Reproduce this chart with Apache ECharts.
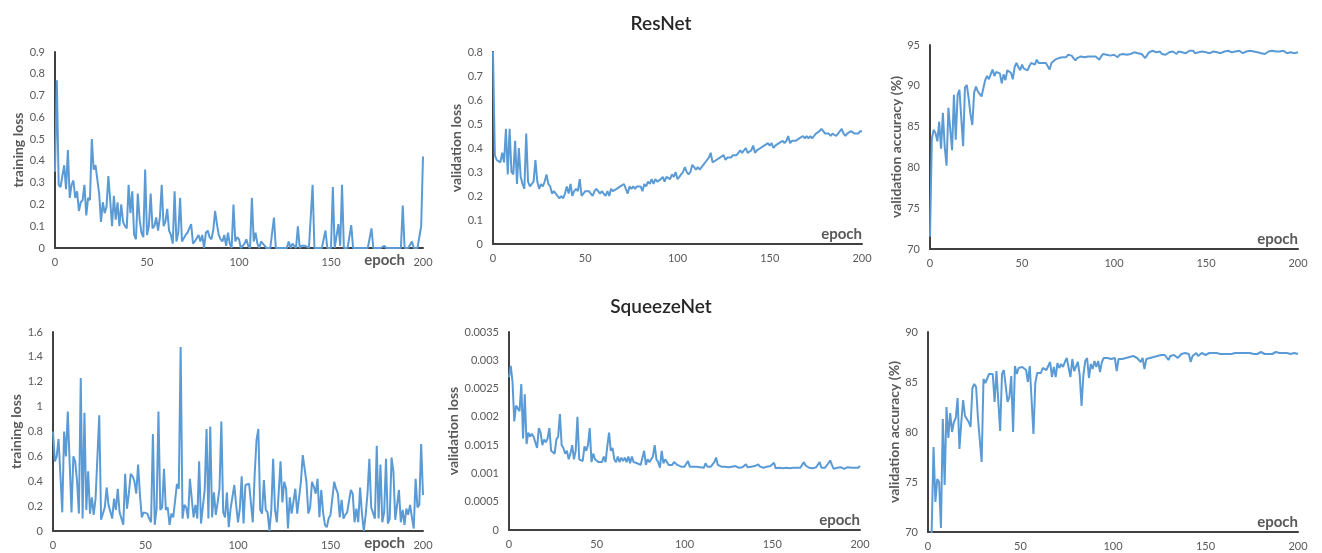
<!DOCTYPE html>
<html>
<head>
<meta charset="utf-8">
<script src="https://cdn.jsdelivr.net/npm/echarts@6/dist/echarts.min.js"></script>
<style>
  html, body { margin: 0; padding: 0; background: #fff; }
  #chart { width: 1322px; height: 553px; }
</style>
</head>
<body>
<div id="chart"></div>
<script>
// epochs 0..200
const epochs = Array.from({ length: 201 }, (_, i) => i)
const xTicks = [0, 50, 100, 150, 200]

// ResNet – training loss
const resTrainLoss = [
  0.35, 0.77, 0.29, 0.28, 0.28, 0.38, 0.27, 0.45, 0.23, 0.29,
  0.31, 0.23, 0.26, 0.17, 0.21, 0.22, 0.29, 0.15, 0.23, 0.22,
  0.50, 0.36, 0.38, 0.38, 0.25, 0.12, 0.21, 0.16, 0.19, 0.33,
  0.22, 0.10, 0.24, 0.13, 0.21, 0.10, 0.20, 0.12, 0.10, 0.09,
  0.29, 0.16, 0.26, 0.06, 0.04, 0.25, 0.13, 0.07, 0.05, 0.36,
  0.06, 0.10, 0.25, 0.09, 0.10, 0.14, 0.08, 0.14, 0.29, 0.10,
  0.12, 0.18, 0.08, 0.06, 0.02, 0.26, 0.03, 0.07, 0.23, 0.03,
  0.03, 0.06, 0.07, 0.07, 0.11, 0.02, 0.03, 0.03, 0.06, 0.03,
  0.06, 0.00, 0.07, 0.08, 0.05, 0.04, 0.08, 0.17, 0.11, 0.06,
  0.04, 0.03, 0.06, 0.01, 0.07, 0.02, 0.00, 0.20, 0.03, 0.05,
  0.04, 0.00, 0.01, 0.02, 0.04, 0.01, 0.00, 0.23, 0.03, 0.07,
  0.02, 0.00, 0.03, 0.02, 0.01, 0.00, 0.00, 0.00, 0.00, 0.14,
  0.00, 0.00, 0.00, 0.00, 0.00, 0.00, 0.00, 0.03, 0.00, 0.02,
  0.01, 0.00, 0.10, 0.00, 0.01, 0.01, 0.01, 0.01, 0.00, 0.00,
  0.29, 0.00, 0.00, 0.00, 0.00, 0.00, 0.00, 0.08, 0.00, 0.00,
  0.00, 0.28, 0.00, 0.00, 0.11, 0.01, 0.29, 0.00, 0.00, 0.00,
  0.00, 0.105, 0.00, 0.00, 0.00, 0.00, 0.00, 0.00, 0.00, 0.00,
  0.00, 0.00, 0.09, 0.00, 0.00, 0.00, 0.00, 0.00, 0.00, 0.01,
  0.00, 0.00, 0.00, 0.00, 0.00, 0.00, 0.00, 0.00, 0.00, 0.195,
  0.00, 0.00, 0.00, 0.00, 0.03, 0.00, 0.00, 0.00, 0.00, 0.10,
  0.42
]

// ResNet – validation loss
const resValLoss = [
  0.80, 0.37, 0.35, 0.35, 0.34, 0.38, 0.34, 0.48, 0.29, 0.48,
  0.30, 0.29, 0.43, 0.25, 0.40, 0.28, 0.25, 0.23, 0.46, 0.26,
  0.24, 0.24, 0.26, 0.35, 0.26, 0.23, 0.25, 0.24, 0.26, 0.29,
  0.25, 0.24, 0.21, 0.22, 0.22, 0.20, 0.19, 0.20, 0.19, 0.21,
  0.24, 0.21, 0.25, 0.20, 0.22, 0.23, 0.22, 0.27, 0.20, 0.21,
  0.22, 0.22, 0.22, 0.21, 0.20, 0.22, 0.23, 0.22, 0.21, 0.22,
  0.21, 0.20, 0.22, 0.20, 0.23, 0.22, 0.22, 0.23, 0.23, 0.24,
  0.24, 0.25, 0.23, 0.21, 0.24, 0.23, 0.24, 0.23, 0.24, 0.24,
  0.24, 0.22, 0.25, 0.24, 0.26, 0.25, 0.27, 0.25, 0.27, 0.26,
  0.26, 0.27, 0.28, 0.26, 0.28, 0.28, 0.27, 0.29, 0.28, 0.30,
  0.27, 0.28, 0.29, 0.30, 0.32, 0.30, 0.29, 0.30, 0.33, 0.32,
  0.31, 0.32, 0.31, 0.32, 0.33, 0.33, 0.35, 0.36, 0.38, 0.34,
  0.34, 0.35, 0.35, 0.36, 0.36, 0.37, 0.35, 0.36, 0.36, 0.36,
  0.37, 0.37, 0.37, 0.38, 0.39, 0.38, 0.38, 0.40, 0.38, 0.38,
  0.39, 0.41, 0.38, 0.39, 0.39, 0.40, 0.40, 0.41, 0.41, 0.42,
  0.41, 0.42, 0.40, 0.41, 0.41, 0.42, 0.42, 0.43, 0.42, 0.43,
  0.45, 0.42, 0.43, 0.43, 0.43, 0.43, 0.44, 0.44, 0.45, 0.44,
  0.45, 0.44, 0.45, 0.44, 0.45, 0.46, 0.46, 0.47, 0.48, 0.47,
  0.46, 0.46, 0.46, 0.45, 0.46, 0.46, 0.45, 0.46, 0.46, 0.48,
  0.46, 0.45, 0.46, 0.46, 0.47, 0.47, 0.46, 0.46, 0.46, 0.47,
  0.47
]

// ResNet – validation accuracy (%)
const resValAcc = [
  71.5, 83.5, 84.6, 84.2, 83.2, 85.6, 82.3, 86.7, 82.5, 80.2,
  87.3, 87.5, 82.1, 88.9, 83.4, 88.9, 89.5, 89.7, 82.6, 89.8,
  90.1, 88.5, 86.5, 85.2, 89.2, 89.9, 89.3, 89.4, 88.7, 88.8,
  90.7, 91.2, 90.8, 91.4, 92.0, 91.2, 91.7, 91.9, 91.5, 90.3,
  91.4, 90.7, 91.9, 92.1, 91.6, 90.8, 92.3, 92.8, 92.3, 91.9,
  92.6, 92.1, 92.3, 91.9, 92.4, 92.8, 92.7, 92.6, 93.2, 92.8,
  93.0, 92.8, 92.8, 92.8, 92.4, 92.0, 92.8, 92.6, 93.2, 93.1,
  93.4, 93.3, 93.5, 93.6, 93.5, 93.8, 93.6, 93.7, 93.4, 93.1,
  93.4, 93.5, 93.6, 93.6, 93.5, 93.7, 93.6, 93.7, 93.6, 93.8,
  93.6, 93.8, 93.2, 93.6, 93.9, 93.7, 93.8, 94.0, 93.7, 93.8,
  93.8, 93.6, 93.5, 93.8, 94.0, 93.9, 93.7, 93.8, 93.6, 93.9,
  94.0, 94.1, 93.9, 94.0, 94.2, 93.9, 94.0, 93.4, 93.6, 94.1,
  94.2, 94.3, 94.2, 94.1, 94.3, 94.2, 93.9, 94.0, 93.8, 93.9,
  94.1, 94.0, 94.2, 94.1, 93.9, 94.2, 94.3, 94.1, 94.2, 94.0,
  94.1, 94.3, 94.2, 94.3, 94.0, 93.9, 94.1, 94.3, 94.2, 94.0,
  94.1, 94.2, 94.0, 94.1, 94.2, 94.3, 94.1, 94.2, 94.0, 94.1,
  94.2, 94.1, 94.3, 94.2, 94.1, 94.0, 94.2, 94.1, 94.3, 94.2,
  94.0, 94.1, 94.2, 94.1, 94.3, 94.1, 94.2, 94.0, 94.1, 94.2,
  94.0, 94.1, 93.9, 94.1, 94.2, 94.1, 94.3, 94.1, 94.2, 94.0,
  94.2, 94.1, 94.3, 94.2, 94.0, 93.9, 94.1, 94.2, 94.0, 94.1,
  94.1
]

// SqueezeNet – training loss
const sqzTrainLoss = [
  0.80, 0.56, 0.60, 0.74, 0.45, 0.15, 0.80, 0.60, 0.96, 0.55,
  0.15, 0.60, 0.56, 0.40, 0.14, 1.23, 0.10, 0.95, 0.17, 0.48,
  0.14, 0.27, 0.13, 0.26, 0.25, 0.93, 0.09, 0.14, 0.19, 0.35,
  0.21, 0.21, 0.10, 0.26, 0.17, 0.34, 0.15, 0.14, 0.05, 0.46,
  0.18, 0.30, 0.46, 0.44, 0.40, 0.30, 0.535, 0.29, 0.11, 0.15,
  0.15, 0.14, 0.10, 0.07, 0.78, 0.05, 0.18, 0.96, 0.17, 0.19,
  0.50, 0.17, 0.19, 0.05, 0.14, 0.11, 0.10, 0.38, 0.34, 1.48,
  0.10, 0.21, 0.19, 0.10, 0.42, 0.26, 0.11, 0.21, 0.10, 0.56,
  0.06, 0.05, 0.33, 0.82, 0.10, 0.84, 0.11, 0.31, 0.13, 0.23,
  0.34, 0.88, 0.15, 0.11, 0.31, 0.03, 0.18, 0.17, 0.37, 0.21,
  0.07, 0.18, 0.44, 0.06, 0.37, 0.38, 0.38, 0.395, 0.07, 0.45,
  0.73, 0.82, 0.17, 0.14, 0.41, 0.17, 0.15, 0.00, 0.17, 0.58,
  0.17, 0.07, 0.31, 0.56, 0.23, 0.395, 0.34, 0.02, 0.27, 0.14,
  0.13, 0.34, 0.14, 0.14, 0.395, 0.61, 0.61, 0.395, 0.14, 0.19,
  0.395, 0.355, 0.30, 0.42, 0.11, 0.33, 0.15, 0.05, 0.03, 0.10,
  0.13, 0.13, 0.395, 0.34, 0.30, 0.11, 0.25, 0.10, 0.13, 0.15,
  0.15, 0.33, 0.30, 0.07, 0.18, 0.07, 0.35, 0.14, 0.00, 0.13,
  0.30, 0.58, 0.19, 0.18, 0.10, 0.685, 0.10, 0.535, 0.07, 0.15,
  0.58, 0.06, 0.10, 0.59, 0.48, 0.09, 0.10, 0.33, 0.07, 0.17,
  0.05, 0.18, 0.13, 0.21, 0.11, 0.02, 0.42, 0.19, 0.21, 0.70,
  0.29
]

// SqueezeNet – validation loss
const sqzValLoss = [
  0.00270, 0.00290, 0.00262, 0.00192, 0.00220, 0.00215, 0.00210, 0.00258, 0.00162, 0.00240,
  0.00152, 0.00172, 0.00165, 0.00170, 0.00165, 0.00165, 0.00145, 0.00180, 0.00172, 0.00150,
  0.00160, 0.00155, 0.00162, 0.00180, 0.00140, 0.00138, 0.00135, 0.00160, 0.00165, 0.00205,
  0.00150, 0.00145, 0.00135, 0.00140, 0.00125, 0.00135, 0.00150, 0.00125, 0.00140, 0.00200,
  0.00125, 0.00125, 0.00122, 0.00148, 0.00140, 0.00150, 0.00180, 0.00120, 0.00135, 0.00125,
  0.00125, 0.00120, 0.00122, 0.00120, 0.00130, 0.00120, 0.00148, 0.00172, 0.00140, 0.00145,
  0.00125, 0.00120, 0.00130, 0.00120, 0.00128, 0.00122, 0.00128, 0.00120, 0.00130, 0.00118,
  0.00130, 0.00120, 0.00120, 0.00118, 0.00120, 0.00115, 0.00118, 0.00140, 0.00115, 0.00125,
  0.00120, 0.00122, 0.00130, 0.00150, 0.00125, 0.00120, 0.00110, 0.00140, 0.00118, 0.00125,
  0.00120, 0.00115, 0.00118, 0.00115, 0.00120, 0.00118, 0.00115, 0.00113, 0.00112, 0.00113,
  0.00112, 0.00112, 0.00122, 0.00112, 0.00113, 0.00112, 0.00111, 0.00112, 0.00113, 0.00111,
  0.00112, 0.00110, 0.00118, 0.00112, 0.00111, 0.00112, 0.00113, 0.00120, 0.00128, 0.00115,
  0.00112, 0.00112, 0.00111, 0.00112, 0.00110, 0.00111, 0.00110, 0.00112, 0.00109, 0.00113,
  0.00112, 0.00110, 0.00113, 0.00111, 0.00112, 0.00116, 0.00111, 0.00110, 0.00112, 0.00111,
  0.00113, 0.00115, 0.00116, 0.00112, 0.00110, 0.00110, 0.00111, 0.00112, 0.00110, 0.00113,
  0.00115, 0.00119, 0.00109, 0.00111, 0.00110, 0.00111, 0.00109, 0.00110, 0.00110, 0.00112,
  0.00109, 0.00112, 0.00110, 0.00111, 0.00110, 0.00112, 0.00110, 0.00111, 0.00120, 0.00114,
  0.00112, 0.00110, 0.00111, 0.00109, 0.00110, 0.00111, 0.00112, 0.00120, 0.00110, 0.00109,
  0.00110, 0.00112, 0.00118, 0.00123, 0.00115, 0.00108, 0.00109, 0.00110, 0.00109, 0.00111,
  0.00110, 0.00108, 0.00110, 0.00111, 0.00109, 0.00110, 0.00108, 0.00110, 0.00111, 0.00110,
  0.00113
]

// SqueezeNet – validation accuracy (%)
const sqzValAcc = [
  64.0, 67.0, 70.2, 78.5, 73.0, 75.3, 75.0, 70.4, 81.3, 74.7,
  82.5, 79.4, 81.9, 80.0, 81.0, 81.4, 83.4, 78.3, 81.0, 83.2,
  81.6, 81.4, 81.0, 80.5, 84.4, 84.8, 84.5, 81.4, 81.2, 77.0,
  85.3, 84.9, 85.1, 85.8, 85.6, 85.8, 83.0, 86.1, 86.0, 80.1,
  85.8, 86.2, 86.3, 83.0, 83.5, 85.6, 80.0, 86.6, 85.8, 86.4,
  86.4, 86.5, 86.7, 86.2, 85.0, 86.6, 86.7, 79.8, 84.9, 85.9,
  86.0, 85.9, 86.4, 86.5, 86.2, 86.6, 87.0, 85.5, 86.5, 85.5,
  86.9, 86.4, 86.8, 86.5, 87.0, 87.4, 87.4, 85.5, 87.3, 86.1,
  86.2, 87.0, 85.7, 82.6, 85.7, 87.1, 87.4, 85.4, 86.8, 86.3,
  87.1, 86.5, 87.1, 86.0, 87.0, 87.4, 87.3, 87.4, 87.4, 87.3,
  87.3, 87.4, 86.1, 87.3, 87.4, 87.3, 87.5, 87.4, 87.6, 87.5,
  87.4, 87.6, 87.5, 87.4, 87.6, 87.0, 87.4, 86.3, 87.3, 87.5,
  87.4, 87.6, 87.5, 87.7, 87.6, 87.5, 87.7, 87.6, 87.7, 87.5,
  87.2, 87.6, 87.5, 87.7, 87.6, 87.4, 87.6, 87.8, 87.7, 87.9,
  88.0, 87.8, 87.0, 87.6, 87.7, 87.9, 87.6, 87.8, 87.9, 87.8,
  87.7, 87.8, 87.9, 87.8, 87.9, 87.7, 87.9, 88.0, 87.8, 87.9,
  87.8, 87.9, 87.8, 87.7, 87.8, 87.7, 87.9, 88.0, 87.9, 88.0,
  87.9, 87.8, 87.9, 87.8, 87.9, 88.0, 87.8, 87.9, 87.8, 87.9,
  88.0, 87.9, 87.8, 87.9, 87.8, 87.9, 87.8, 87.9, 88.0, 87.9,
  87.9, 87.8, 87.9, 87.8, 87.9, 87.9, 87.8, 87.9, 87.9, 87.8,
  87.8
]

const titles = ['ResNet', 'SqueezeNet']
const yNames = ['training loss', 'validation loss', 'validation accuracy (%)']

const LINE = '#5B9BD5'
const AXIS = '#404040'
const LABEL = '#595959'
const FONT = 'Lato, "Open Sans", sans-serif'

// panel layout: grid box, y range, y-name gap, where "epoch" sits
const panels = [
  { data: resTrainLoss, grid: { left: 55, top: 52, width: 368, height: 196 }, min: 0, max: 0.9, interval: 0.1, name: yNames[0], gap: 30, epochLow: true },
  { data: resValLoss,   grid: { left: 493, top: 52, width: 369, height: 192 }, min: 0, max: 0.8, interval: 0.1, name: yNames[1], gap: 29 },
  { data: resValAcc,    grid: { left: 930, top: 45, width: 368, height: 204 }, min: 70, max: 95, interval: 5, name: yNames[2], gap: 26 },
  { data: sqzTrainLoss, grid: { left: 53, top: 332, width: 370, height: 199 }, min: 0, max: 1.6, interval: 0.2, name: yNames[0], gap: 27, epochLow: true },
  { data: sqzValLoss,   grid: { left: 509, top: 332, width: 351, height: 198 }, min: 0, max: 0.0035, interval: 0.0005, name: yNames[1], gap: 46 },
  { data: sqzValAcc,    grid: { left: 928, top: 332, width: 370, height: 200 }, min: 70, max: 90, interval: 5, name: yNames[2], gap: 24 },
]

const chart = echarts.init(document.getElementById('chart'), null, { renderer: 'canvas' })

const option = {
  backgroundColor: '#fff',
  animation: false,
  textStyle: { fontFamily: FONT },
  title: [
    { text: titles[0], left: 'center', top: 9, textStyle: { fontSize: 19, fontWeight: 600, color: '#262626', fontFamily: FONT } },
    { text: titles[1], left: 'center', top: 292, textStyle: { fontSize: 19, fontWeight: 600, color: '#262626', fontFamily: FONT } },
  ],
  grid: panels.map(p => ({ ...p.grid, containLabel: false })),
  xAxis: panels.map((p, i) => ({
    type: 'value', gridIndex: i, min: xTicks[0], max: xTicks[xTicks.length - 1], interval: 50,
    axisLine: { show: true, lineStyle: { color: AXIS, width: 2 } },
    axisTick: { show: false },
    splitLine: { show: false },
    axisLabel: { color: LABEL, fontSize: 11, margin: 9, fontFamily: FONT },
    name: 'epoch',
    nameLocation: 'end',
    nameGap: p.epochLow ? -18 : 0,
    nameTextStyle: p.epochLow
      ? { color: LABEL, fontSize: 15, fontWeight: 'bold', align: 'right', verticalAlign: 'top', padding: [5, 0, 0, 0], fontFamily: FONT }
      : { color: LABEL, fontSize: 15, fontWeight: 'bold', align: 'right', verticalAlign: 'bottom', padding: [0, 0, 2, 0], fontFamily: FONT },
  })),
  yAxis: panels.map((p, i) => ({
    type: 'value', gridIndex: i, min: p.min, max: p.max, interval: p.interval,
    axisLine: { show: true, lineStyle: { color: AXIS, width: 2 } },
    axisTick: { show: false },
    splitLine: { show: false },
    axisLabel: { color: LABEL, fontSize: 11, margin: 10, fontFamily: FONT },
    name: p.name,
    nameLocation: 'middle',
    nameGap: p.gap,
    nameTextStyle: { color: LABEL, fontSize: 14, fontWeight: 'bold', fontFamily: FONT },
  })),
  series: panels.map((p, i) => ({
    type: 'line', xAxisIndex: i, yAxisIndex: i,
    data: epochs.map((e, k) => [e, p.data[k]]),
    showSymbol: false, symbol: 'none', clip: true,
    lineStyle: { color: LINE, width: 2 },
    itemStyle: { color: LINE },
  })),
}

chart.setOption(option)
</script>
</body>
</html>
